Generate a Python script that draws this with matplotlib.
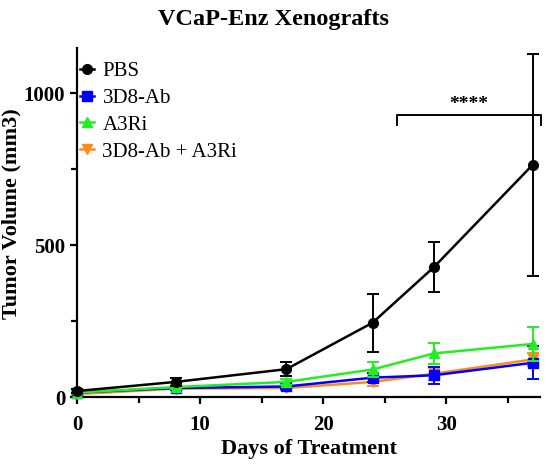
import matplotlib.pyplot as plt
from matplotlib.lines import Line2D

plt.rcParams['font.family'] = ['Liberation Serif', 'DejaVu Serif']

days = [0, 8, 17, 24, 29, 37]
pbs = [20, 50, 92, 245, 429, 765]
pbs_err = [8, 12, 23, 95, 82, 365]
ab = [15, 30, 35, 64, 72, 113]
ab_err = [5, 6, 8, 15, 28, 55]
a3ri = [15, 33, 50, 91, 144, 175]
a3ri_err = [5, 6, 10, 24, 35, 55]
combo = [10, 28, 30, 50, 77, 124]
combo_err = [4, 5, 6, 12, 20, 20]

labels = ['PBS', '3D8-Ab', 'A3Ri', '3D8-Ab + A3Ri']
colors = ['black', '#0000ff', '#22ee22', '#ff8c1a']
markers = ['o', 's', '^', 'v']

fig = plt.figure(figsize=(5.5, 4.65), dpi=100)
ax = fig.add_axes([0.14, 0.146, 0.842, 0.751])

# draw order: combo at bottom, PBS on top
series = [(combo, combo_err, 3), (ab, ab_err, 1), (a3ri, a3ri_err, 2), (pbs, pbs_err, 0)]
for z, (vals, err, i) in enumerate(series):
    ax.errorbar(days, vals, yerr=err, color=colors[i], marker=markers[i],
                markersize=7, linewidth=1.8, elinewidth=1.4, capsize=4,
                capthick=1.4, clip_on=False, zorder=3 + z)

ax.set_xlim(0, 37.6)
ax.set_ylim(0, 1150)
ax.set_xticks([0, 10, 20, 30])
ax.set_xticks([5, 15, 25, 35], minor=True)
ax.set_yticks([0, 500, 1000])
ax.set_yticks([250, 750], minor=True)
for s in ['top', 'right']:
    ax.spines[s].set_visible(False)
for s in ['left', 'bottom']:
    ax.spines[s].set_linewidth(1.6)
ax.tick_params(width=1.6, length=5, labelsize=15)
ax.tick_params(axis='x', pad=8)
ax.tick_params(which='minor', width=1.6, length=4)
for lab in ax.get_xticklabels() + ax.get_yticklabels():
    lab.set_fontweight('bold')

ax.set_xlabel('Days of Treatment', fontsize=16, fontweight='bold', labelpad=3)
ax.set_ylabel('Tumor Volume (mm3)', fontsize=16, fontweight='bold')
ax.yaxis.set_label_coords(-0.12, 0.525)
fig.text(0.497, 0.946, 'VCaP-Enz Xenografts', ha='center', va='baseline',
         fontsize=17.5, fontweight='bold')

# significance bracket
ax.plot([26, 26, 37.7, 37.7], [897, 930, 930, 897], color='black', linewidth=1.4, clip_on=False)
ax.text(31.8, 935, '****', ha='center', va='bottom', fontsize=14, fontweight='bold')

handles = [Line2D([], [], color=colors[i], marker=markers[i], markersize=7,
                  linewidth=1.8) for i in range(4)]
ax.legend(handles, labels, loc='upper left', bbox_to_anchor=(-0.035, 1.015),
          frameon=False, fontsize=15, handlelength=0.7, handletextpad=0.4,
          labelspacing=0.35)

fig.savefig('out.png')
